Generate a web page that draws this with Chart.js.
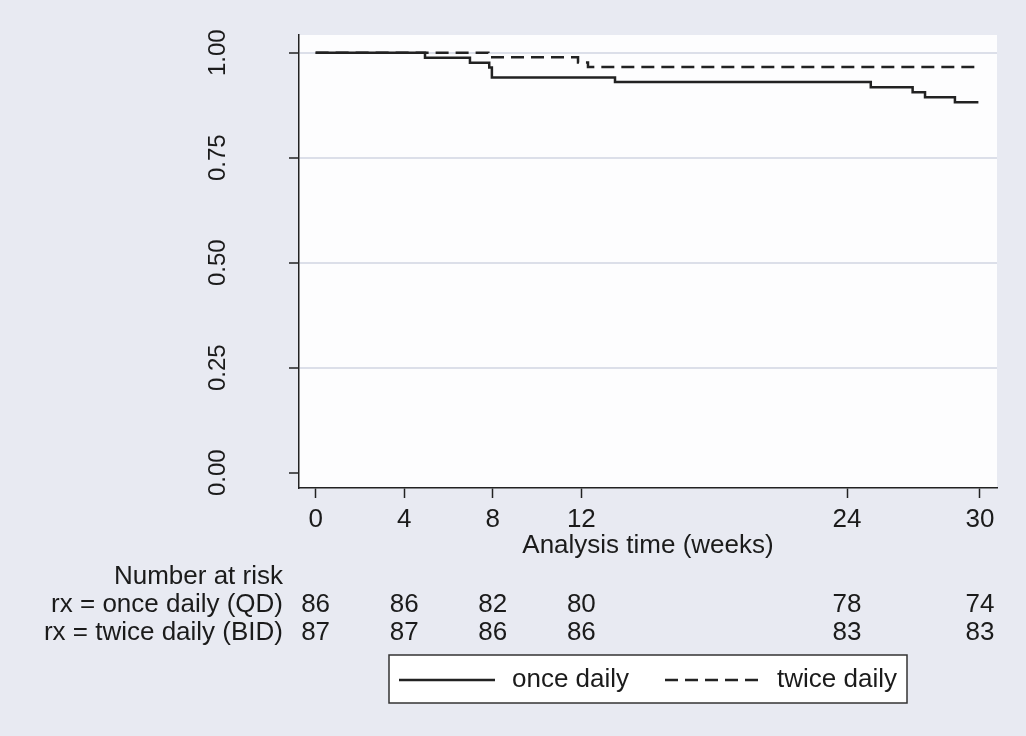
<!DOCTYPE html>
<html>
<head>
<meta charset="utf-8">
<title>Kaplan-Meier: once vs twice daily</title>
<script src="https://cdn.jsdelivr.net/npm/chart.js@4.4.1/dist/chart.umd.min.js"></script>
<style>
  body { margin: 0; background: #e8eaf2; }
  #wrap { width: 1026px; height: 736px; }
</style>
</head>
<body>
<div id="wrap"><canvas id="km" width="1026" height="736"></canvas></div>
<script>
// ============================== DATA ==============================
const onceWeeks  = [0, 4.94, 6.97, 7.84, 7.96, 13.52, 25.07, 26.96, 27.52, 28.87, 29.93];
const onceSurv   = [1.0, 0.988, 0.976, 0.965, 0.941, 0.930, 0.918, 0.906, 0.894, 0.882, 0.882];
const twiceWeeks = [0, 7.8, 11.85, 12.3, 29.93];
const twiceSurv  = [1.0, 0.989, 0.977, 0.966, 0.966];

const xTicks = [0, 4, 8, 12, 24, 30];
const yTicks = [0, 0.25, 0.5, 0.75, 1];

const riskTitle  = "Number at risk";
const riskLabels = ["rx = once daily (QD)", "rx = twice daily (BID)"];
const riskOnce   = [86, 86, 82, 80, 78, 74];
const riskTwice  = [87, 87, 86, 86, 83, 83];

const legendLabels = ["once daily", "twice daily"];

// ============================== STYLE ==============================
const FONT = "'Liberation Sans', Arial, Helvetica, sans-serif";
const INK = '#1b1b1b';
const LINE = '#222222';
const DASH = [13, 7];

function toPoints(xs, ys) {
    return xs.map((t, i) => ({ x: t, y: ys[i] }));
}

// white plot region, rotated y labels, risk table and boxed legend
const stataExtras = {
    id: 'stataExtras',
    beforeDraw(chart) {
        const { ctx, chartArea: a } = chart;
        ctx.save();
        ctx.fillStyle = '#fdfdfe';
        ctx.fillRect(a.left, a.top, a.right - a.left, a.bottom - a.top);
        ctx.restore();
    },
    afterDraw(chart) {
        const ctx = chart.ctx;
        const xs = chart.scales.x, ys = chart.scales.y;
        ctx.save();
        ctx.fillStyle = INK;

        // y tick labels, rotated like Stata
        ctx.font = '24px ' + FONT;
        ctx.textAlign = 'center';
        ctx.textBaseline = 'middle';
        yTicks.forEach(v => {
            ctx.save();
            ctx.translate(218, ys.getPixelForValue(v));
            ctx.rotate(-Math.PI / 2);
            ctx.fillText(v.toFixed(2), 0, 0);
            ctx.restore();
        });

        // number at risk table
        ctx.font = '26px ' + FONT;
        ctx.textAlign = 'right';
        ctx.fillText(riskTitle, 283, 577);
        ctx.fillText(riskLabels[0], 283, 605);
        ctx.fillText(riskLabels[1], 283, 633);
        ctx.textAlign = 'center';
        xTicks.forEach((t, i) => {
            const px = xs.getPixelForValue(t);
            ctx.fillText(String(riskOnce[i]), px, 605);
            ctx.fillText(String(riskTwice[i]), px, 633);
        });

        // legend box
        ctx.fillStyle = '#ffffff';
        ctx.fillRect(389, 655, 518, 48);
        ctx.strokeStyle = '#333333';
        ctx.lineWidth = 1.5;
        ctx.strokeRect(389, 655, 518, 48);

        ctx.strokeStyle = LINE;
        ctx.lineWidth = 2.5;
        ctx.beginPath();
        ctx.moveTo(399, 680);
        ctx.lineTo(495, 680);
        ctx.stroke();
        ctx.setLineDash(DASH);
        ctx.beginPath();
        ctx.moveTo(665, 680);
        ctx.lineTo(762, 680);
        ctx.stroke();
        ctx.setLineDash([]);

        ctx.fillStyle = INK;
        ctx.textAlign = 'left';
        ctx.fillText(legendLabels[0], 512, 680);
        ctx.fillText(legendLabels[1], 777, 680);
        ctx.restore();
    }
};

// ============================== CHART ==============================
new Chart(document.getElementById('km'), {
    type: 'line',
    data: {
        datasets: [
            {
                label: legendLabels[0],
                data: toPoints(onceWeeks, onceSurv),
                stepped: true,
                borderColor: LINE,
                borderWidth: 2.5,
                pointRadius: 0,
                fill: false
            },
            {
                label: legendLabels[1],
                data: toPoints(twiceWeeks, twiceSurv),
                stepped: true,
                borderColor: LINE,
                borderWidth: 2.5,
                borderDash: DASH,
                pointRadius: 0,
                fill: false
            }
        ]
    },
    options: {
        responsive: false,
        animation: false,
        layout: { padding: { left: 0, right: 29, top: 35, bottom: 175 } },
        plugins: { legend: { display: false }, tooltip: { enabled: false } },
        scales: {
            x: {
                type: 'linear',
                min: -0.75,
                max: 30.77,
                afterBuildTicks: s => { s.ticks = xTicks.map(v => ({ value: v })); },
                afterFit: s => { s.height = 73; },
                ticks: { font: { family: FONT, size: 26 }, color: INK, padding: 6, autoSkip: false, maxRotation: 0 },
                grid: { drawOnChartArea: false, tickLength: 10, tickColor: LINE, tickWidth: 1.5 },
                border: { color: LINE, width: 1.5 },
                title: { display: true, text: 'Analysis time (weeks)', font: { family: FONT, size: 26 }, color: INK, padding: 0 }
            },
            y: {
                type: 'linear',
                min: -0.0365,
                max: 1.0422,
                afterBuildTicks: s => { s.ticks = yTicks.map(v => ({ value: v })); },
                afterFit: s => { s.width = 299; },
                ticks: { display: false },
                grid: {
                    color: c => (c.tick && c.tick.value === 0) ? 'rgba(0,0,0,0)' : '#dcdfe9',
                    lineWidth: 2,
                    tickLength: 10,
                    tickColor: LINE,
                    tickWidth: 1.5
                },
                border: { color: LINE, width: 1.5 }
            }
        }
    },
    plugins: [stataExtras]
});
</script>
</body>
</html>
